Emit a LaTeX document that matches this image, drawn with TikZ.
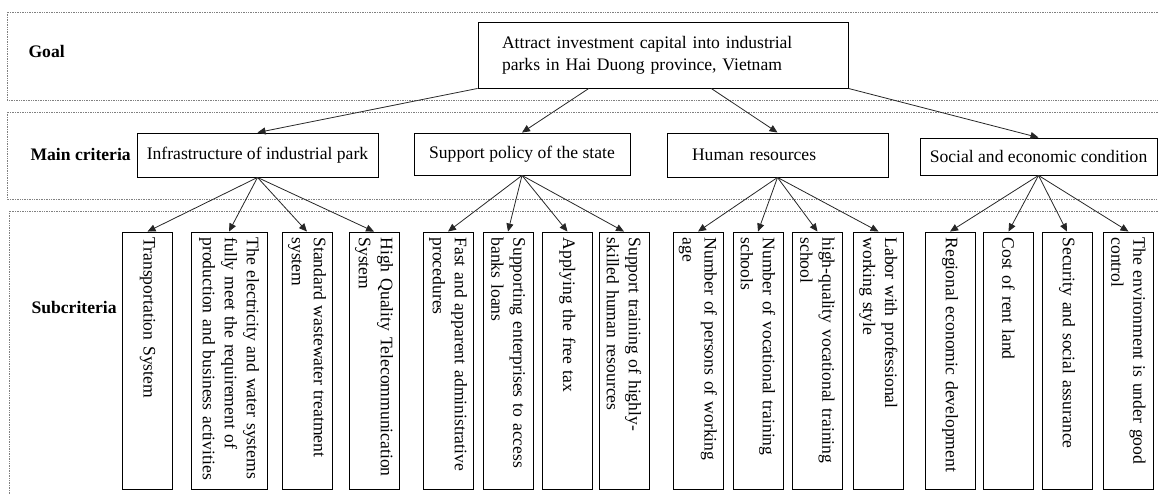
\documentclass[tikz,border=0pt]{standalone}
\usepackage{fontspec}
\setmainfont{Liberation Serif}
\usetikzlibrary{arrows.meta,calc}
\tikzset{
  band/.style={densely dotted, gray, line width=0.7pt},
  lbl/.style={anchor=west, font=\fontsize{17.6pt}{22pt}\selectfont\bfseries},
  box/.style={draw, line width=0.9pt, font=\fontsize{17.6pt}{22pt}\selectfont},
  subbox/.style={box, rotate=-90, text width=246pt, inner xsep=5.5pt, inner ysep=4pt, align=left, minimum height=50pt},
  arr/.style={-{Triangle[length=8pt,width=7pt]}, line width=0.8pt, black!85}
}
\hyphenpenalty=10000
\begin{document}
\begin{tikzpicture}[x=1pt,y=-1pt]
\useasboundingbox (0,0) rectangle (1158,495);
% levels
\draw[band] (1158,12) -| (7,100) -- (1158,100);
\draw[band] (1158,112) -| (7,199) -- (1158,199);
\draw[band] (1158,211) -| (9,495);
\node[lbl] (goallbl) at (25,51) {Goal};
\node[lbl] (mainlbl) at (27,154) {Main criteria};
\node[lbl] (sublbl) at (28,307) {Subcriteria};
% goal
\node[box, text width=322pt, inner xsep=24pt, align=left, minimum height=66pt] (goal) at (663,55)
  {Attract investment capital into industrial\\parks in Hai Duong province, Vietnam};
% main criteria
\node[box, minimum width=241pt, minimum height=44pt] (infra) at (257.5,155) {Infrastructure of industrial park};
\node[box, minimum width=216pt, minimum height=42pt] (policy) at (522,154) {Support policy of the state};
\node[box, text width=171pt, inner xsep=25pt, align=left, minimum height=44pt] (human) at (777.5,155) {Human resources};
\node[box, minimum width=237pt, minimum height=37pt] (social) at (1038.5,156.5) {Social and economic condition};
% subcriteria
\node[subbox] (transport) at (147.5,360.5) {Transportation System};
\node[subbox, minimum height=76pt] (utility) at (229,360.5) {The electricity and water systems\\fully meet the requirement of\\production and business activities};
\node[subbox] (waste) at (307,360.5) {Standard wastewater treatment\\system};
\node[subbox] (telecom) at (374,360.5) {High Quality Telecommunication\\System};
\node[subbox] (procedure) at (448,360.5) {Fast and apparent administrative\\procedures};
\node[subbox] (loan) at (508,360.5) {Supporting enterprises to access\\banks loans};
\node[subbox] (tax) at (567.5,360.5) {Applying the free tax};
\node[subbox] (training) at (624,360.5) {Support training of highly-\\skilled human resources};
\node[subbox] (workforce) at (698,360.5) {Number of persons of working\\age};
\node[subbox] (vocschool) at (758,360.5) {Number of vocational training\\schools};
\node[subbox] (hqschool) at (817.5,360.5) {high-quality vocational training\\school};
\node[subbox] (labor) at (878.5,360.5) {Labor with professional\\working style};
\node[subbox] (regional) at (950,360.5) {Regional economic development};
\node[subbox] (rent) at (1008.5,360.5) {Cost of rent land};
\node[subbox] (security) at (1067,360.5) {Security and social assurance};
\node[subbox] (environ) at (1128.5,360.5) {The environment is under good\\control};
% goal to main criteria
\draw[arr] (goal.south west) -- (infra.north);
\draw[arr] ($(goal.south west)!0.3!(goal.south east)$) -- (policy.north);
\draw[arr] ($(goal.south west)!0.63!(goal.south east)$) -- (human.north);
\draw[arr] (goal.south east) -- (social.north);
% main criteria to subcriteria
\draw[arr] (infra.south) -- (transport.west);
\draw[arr] (infra.south) -- (utility.west);
\draw[arr] (infra.south) -- (waste.west);
\draw[arr] (infra.south) -- (telecom.west);
\draw[arr] (policy.south) -- (procedure.west);
\draw[arr] (policy.south) -- (loan.west);
\draw[arr] (policy.south) -- (tax.west);
\draw[arr] (policy.south) -- (training.west);
\draw[arr] (human.south) -- (workforce.west);
\draw[arr] (human.south) -- (vocschool.west);
\draw[arr] (human.south) -- (hqschool.west);
\draw[arr] (human.south) -- (labor.west);
\draw[arr] (social.south) -- (regional.west);
\draw[arr] (social.south) -- (rent.west);
\draw[arr] (social.south) -- (security.west);
\draw[arr] (social.south) -- (environ.west);
\end{tikzpicture}
\end{document}
